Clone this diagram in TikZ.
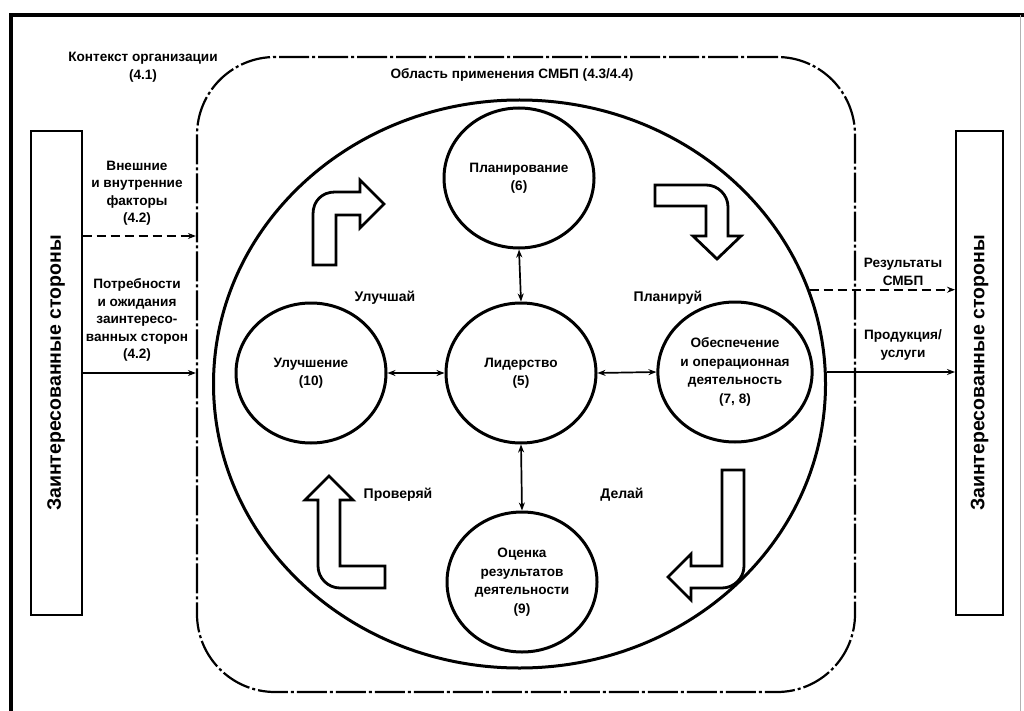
\documentclass[tikz,border=0pt]{standalone}
\usepackage{fontspec}
\setmainfont{Liberation Sans}
\usetikzlibrary{shapes.geometric,arrows.meta,calc}
\begin{document}
\begin{tikzpicture}[x=1pt,y=-1pt,
  lbl/.style={font=\bfseries\fontsize{13.6}{17.5}\selectfont, align=center, inner sep=0pt},
  proc/.style={draw, line width=3pt, ellipse, minimum width=150pt, minimum height=140pt, inner sep=0pt, align=center, font=\bfseries\fontsize{13.6}{18.5}\selectfont},
  blk/.style={draw, line width=2.8pt, fill=white, line join=miter},
  cyc/.style={font=\bfseries\fontsize{14}{16}\selectfont, inner sep=0pt},
  sidebox/.style={draw, line width=2pt, minimum width=51pt, minimum height=484pt, inner sep=0pt},
  sidetext/.style={rotate=90, font=\bfseries\fontsize{19.5}{22}\selectfont},
  tipone/.style={line width=1.7pt, -{Stealth[length=8pt,width=6pt]}},
  tiptwo/.style={line width=1.7pt, {Stealth[length=8pt,width=6pt]}-{Stealth[length=8pt,width=6pt]}},
  dashline/.style={dash pattern=on 9pt off 5pt},
  ctxline/.style={line width=2.2pt, dash pattern=on 30pt off 3pt on 3pt off 3pt}
]
\useasboundingbox (0,0) rectangle (1024,711);
\fill[white] (0,0) rectangle (1024,711);
% frame
\draw[line width=3.5pt] (11,720) -- (11,15) -- (1030,15);
\draw[line width=0.6pt, gray!60] (1020,15) -- (1020,720);

% context / scope region
\node[draw, ctxline, rounded corners=78pt, minimum width=658pt, minimum height=635pt, inner sep=0pt] (scope) at (526,374.5) {};
\node[lbl] (ctxlbl) at (143,67) {Контекст организации\\(4.1)};
\node[lbl] (scopelbl) at (512,75) {Область применения СМБП (4.3/4.4)};

% side boxes
\node[sidebox] (lbox) at (56,373) {};
\node[sidetext] (ltext) at (56,373) {Заинтересованные стороны};
\node[sidebox, minimum width=47pt] (rbox) at (979.5,373) {};
\node[sidetext] (rtext) at (979.5,373) {Заинтересованные стороны};

% big circle
\node[draw, ellipse, line width=3pt, minimum width=612pt, minimum height=568pt, inner sep=0pt] (big) at (519.5,384) {};

% process circles
\node[proc] (plan) at (519,178) {Планирование\\(6)};
\node[proc] (lead) at (521,373) {Лидерство\\(5)};
\node[proc] (imp) at (311,373) {Улучшение\\(10)};
\node[proc] (ops) at (735,372) {Обеспечение\\и операционная\\деятельность\\(7, 8)};
\node[proc] (eval) at (522,582) {Оценка\\результатов\\деятельности\\(9)};

% connectors
\draw[tiptwo] (plan.south) -- (lead.north);
\draw[tiptwo] (lead.south) -- (eval.north);
\draw[tiptwo] (imp.east) -- (lead.west);
\draw[tiptwo] (lead.east) -- (ops.west);

% left inputs
\node[lbl] (extlbl) at (137,193) {Внешние\\и внутренние\\факторы\\(4.2)};
\node[lbl] (needlbl) at (137,320) {Потребности\\и ожидания\\заинтересо-\\ванных сторон\\(4.2)};
\coordinate (yext) at (0,236);
\draw[tipone, dashline] (lbox.east |- yext) -- (scope.west |- yext);
\draw[tipone] (lbox.east |- imp) -- (scope.west |- imp);

% right outputs
\node[lbl] (reslbl) at (903,272) {Результаты\\СМБП};
\node[lbl] (prodlbl) at (903,345) {Продукция/\\услуги};
\draw[tipone, dashline] (big.18) -- (big.18 -| rbox.west);
\draw[tipone] (ops.east -| big.east) -- (ops.east -| rbox.west);

% cycle block arrows
\draw[blk] (313,265) -- (313,214) .. controls (313,201) and (322,192) .. (335,192) -- (360,192) -- (360,180) -- (384,204) -- (360,228) -- (360,215) -- (336,215) -- (336,265) -- cycle;
\draw[blk] (655,185) -- (706,185) .. controls (718,185) and (728,195) .. (728,207) -- (728,236) -- (741,236) -- (717,259) -- (693,236) -- (706,236) -- (706,206) -- (655,206) -- cycle;
\draw[blk] (744,470) -- (744,566) .. controls (744,578) and (734,588) .. (722,588) -- (691,588) -- (691,600) -- (668,577) -- (691,554) -- (691,566) -- (722,566) -- (722,470) -- cycle;
\draw[blk] (385,588) -- (340,588) .. controls (328,588) and (318,578) .. (318,566) -- (318,500) -- (305,500) -- (329,476) -- (353,500) -- (340,500) -- (340,566) -- (385,566) -- cycle;

\node[cyc] (c1) at (385,298) {Улучшай};
\node[cyc] (c2) at (668,298) {Планируй};
\node[cyc] (c3) at (398,495) {Проверяй};
\node[cyc] (c4) at (622,495) {Делай};
\end{tikzpicture}
\end{document}
